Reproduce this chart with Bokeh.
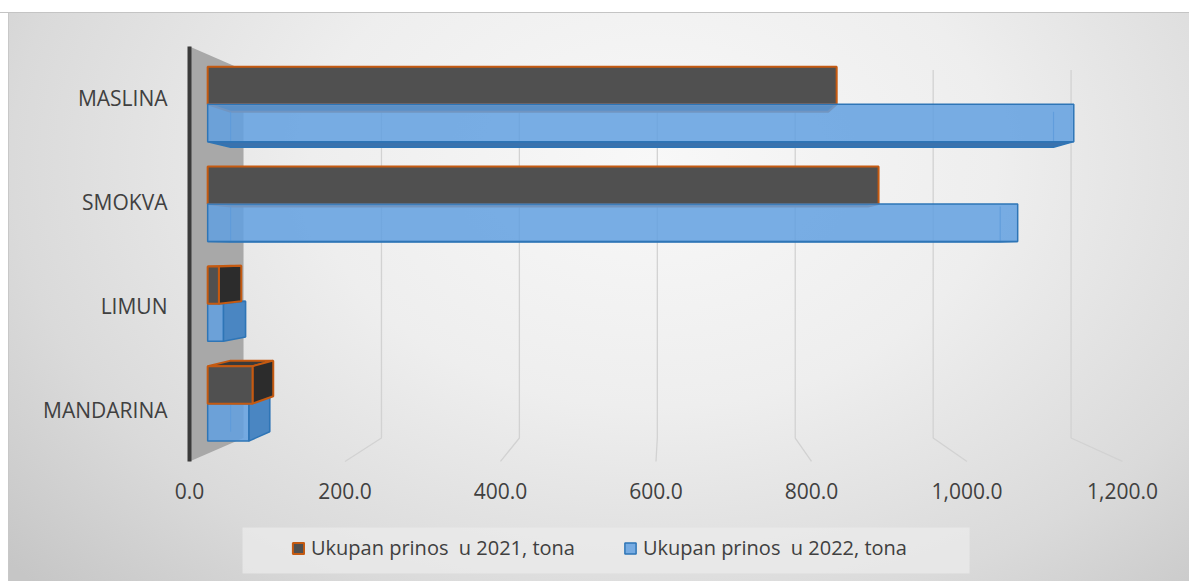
from bokeh.plotting import figure
from bokeh.models import FixedTicker, Legend, LegendItem, BoxAnnotation
from bokeh.core.properties import value
from bokeh.embed import file_html
from bokeh.resources import INLINE

# ---------------- data ----------------
categories = ["MANDARINA", "LIMUN", "SMOKVA", "MASLINA"]          # bottom -> top
prinos_2021 = [60, 15, 897, 841]
prinos_2022 = [55, 21, 1083, 1158]
series_names = ["Ukupan prinos  u 2021, tona", "Ukupan prinos  u 2022, tona"]
tick_values = [0, 200, 400, 600, 800, 1000, 1200]
tick_labels = ["0.0", "200.0", "400.0", "600.0", "800.0", "1,000.0", "1,200.0"]

# ---------------- 3D view settings ----------------
VPX, VPY = 615.0, 1.5          # vanishing point (data units)
K_WALL = 0.887                 # depth scale of back wall
K_FRONT = 0.962                # depth scale of bar front faces
K_BACK = 0.914                 # depth scale of bar back faces
HALF = 0.375                   # thickness of one series bar (category units)
Y_LOW, Y_HIGH = -0.5, len(categories) - 0.5
TICK_Y = -0.78                 # row of the value labels under the floor
FONT = "Open Sans"
TXT = "#404040"


def proj(v, y, k):
    return VPX + k * (v - VPX), VPY + k * (y - VPY)


def poly(points):
    return [pt[0] for pt in points], [pt[1] for pt in points]


W, H = 1189, 581
p = figure(width=W, height=H, output_backend="svg", toolbar_location=None,
           x_range=(-50.16, 1286.2), y_range=(-1.657, 3.827),
           x_axis_location=None,
           min_border_left=150, min_border_right=0, min_border_top=12,
           min_border_bottom=0)
p.background_fill_alpha = 0
p.border_fill_alpha = 0
p.outline_line_color = None
p.grid.visible = False
p.styles = {
    "background": (
        "linear-gradient(to bottom, #ffffff 0px, #ffffff 12px, #c4c4c4 12px, #c4c4c4 13px, rgba(0,0,0,0) 13px),"
        "linear-gradient(to right, #ffffff 0px, #ffffff 8px, #c8c8c8 8px, #c8c8c8 9px, rgba(0,0,0,0) 9px),"
        "radial-gradient(ellipse 72% 105% at 55% 28%, #f8f8f8 0%, #eeeeee 40%, #dadada 75%, #c6c6c6 100%)"
    )
}

# category axis
p.yaxis.ticker = FixedTicker(ticks=list(range(len(categories))))
p.yaxis.major_label_overrides = {i: c for i, c in enumerate(categories)}
p.yaxis.axis_line_color = None
p.yaxis.major_tick_line_color = None
p.yaxis.minor_tick_line_color = None
p.yaxis.major_tick_out = 0
p.yaxis.major_label_standoff = -17
p.yaxis.major_label_text_font = FONT
p.yaxis.major_label_text_font_size = "21px"
p.yaxis.major_label_text_color = TXT

# value labels under the floor
p.text(x=tick_values, y=[TICK_Y] * len(tick_values), text=tick_labels,
       text_align="center", text_baseline="middle", text_font=value(FONT),
       text_font_size="21px", text_color=TXT)

# side wall
wx, wy = poly([proj(0, Y_LOW, 1), proj(0, Y_HIGH, 1),
               proj(0, Y_HIGH, K_WALL), proj(0, Y_LOW, K_WALL)])
p.patch(wx, wy, fill_color="#a8a8a8", line_color=None)

# back wall grid lines + floor lines
gx, gy = [], []
for v in tick_values[1:]:
    a = proj(v, Y_LOW, K_WALL)
    b = proj(v, Y_HIGH, K_WALL)
    c = proj(v, Y_LOW, 1)
    gx.append([c[0], a[0], b[0]])
    gy.append([c[1], a[1], b[1]])
p.multi_line(gx, gy, line_color="#d2d2d2", line_width=1.3)

# axis line (front edge of the wall)
p.segment(x0=[0], y0=[Y_LOW], x1=[0], y1=[Y_HIGH], line_color="#3a3a3a", line_width=4)

styles = {
    2021: dict(front="#505050", front_alpha=1.0, side="#2c2c2c", topbot="#3a3a3a",
               line="#c55a11", lw=2.0, backline=None),
    2022: dict(front="#62a0e0", front_alpha=0.85, side="#4a86c2", topbot="#3a72ad",
               line="#2e75b6", lw=1.5, backline="#3a78b8"),
}

legend_renderers = {}


def draw_bar(val, y0, y1, year):
    st = styles[year]
    F = lambda v, y: proj(v, y, K_FRONT)
    B = lambda v, y: proj(v, y, K_BACK)
    if st["backline"]:
        bx = [[B(0, y0)[0], B(0, y1)[0]], [B(val, y0)[0], B(val, y1)[0]]]
        by = [[B(0, y0)[1], B(0, y1)[1]], [B(val, y0)[1], B(val, y1)[1]]]
        p.multi_line(bx, by, line_color=st["backline"], line_width=1.2, line_alpha=0.8)
    if y1 < VPY:
        xs, ys = poly([F(0, y1), F(val, y1), B(val, y1), B(0, y1)])
        p.patch(xs, ys, fill_color=st["topbot"], line_color=st["line"], line_width=st["lw"])
    if y0 > VPY:
        xs, ys = poly([F(0, y0), F(val, y0), B(val, y0), B(0, y0)])
        p.patch(xs, ys, fill_color=st["topbot"], line_color=st["line"], line_width=st["lw"])
    if val < VPX:
        xs, ys = poly([F(val, y0), F(val, y1), B(val, y1), B(val, y0)])
        p.patch(xs, ys, fill_color=st["side"], line_color=st["line"], line_width=st["lw"])
    xs, ys = poly([F(0, y0), F(val, y0), F(val, y1), F(0, y1)])
    r = p.patch(xs, ys, fill_color=st["front"], fill_alpha=st["front_alpha"],
                line_color=st["line"], line_width=st["lw"])
    legend_renderers.setdefault(year, r)


for i, cat in enumerate(categories):
    bars = [(prinos_2021[i], i, i + HALF, 2021), (prinos_2022[i], i - HALF, i, 2022)]
    if i < VPY:
        bars = bars[::-1]
    for val, y0, y1, year in bars:
        draw_bar(val, y0, y1, year)

# legend frame (lighter band) and legend
p.add_layout(BoxAnnotation(left=68.2, right=1003.3, top=-1.136, bottom=-1.580,
                           fill_color="#ebebeb", fill_alpha=0.75, line_color=None,
                           level="annotation"))
legend = Legend(
    items=[LegendItem(label=series_names[0], renderers=[legend_renderers[2021]]),
           LegendItem(label=series_names[1], renderers=[legend_renderers[2022]])],
    orientation="horizontal", location=(129, 8), margin=0, padding=12,
    spacing=48, label_standoff=6, glyph_width=14, glyph_height=14, label_height=22,
    background_fill_alpha=0, border_line_alpha=0,
    label_text_font=FONT, label_text_font_size="20px", label_text_color=TXT,
)
p.add_layout(legend)

open("out.html", "w").write(file_html(p, INLINE))
